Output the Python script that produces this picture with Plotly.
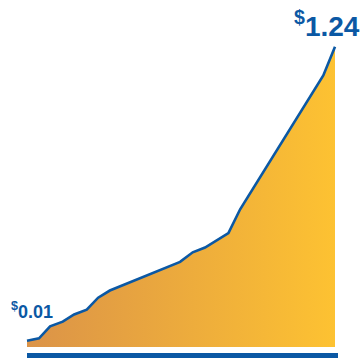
import plotly.graph_objects as go

# Data (x: relative period position 0-100, y: dollars)
periods = [0, 3.9, 7.5, 11.6, 15.3, 19.4, 23.1, 26.9, 49.7, 53.8, 57.8, 65.4, 69.2, 96.2, 100]
values = [0.01, 0.02, 0.07, 0.09, 0.12, 0.14, 0.19, 0.22, 0.34, 0.38, 0.40, 0.46, 0.56, 1.12, 1.24]
start_label = "<sup>$</sup>0.01"
end_label = "<sup>$</sup>1.24"

BLUE = "#0B58A4"
FONT = "Liberation Sans, Arial, sans-serif"
base_level = -0.016

fig = go.Figure()
fig.add_trace(go.Scatter(
    x=[periods[0], periods[-1]], y=[base_level, base_level],
    mode="lines", line=dict(width=0), hoverinfo="skip", showlegend=False,
))
fig.add_trace(go.Scatter(
    x=periods, y=values, mode="lines",
    line=dict(color=BLUE, width=2.6),
    fill="tonexty",
    fillgradient=dict(type="horizontal",
                      colorscale=[[0, "#DB9348"], [1, "#FDC232"]]),
    showlegend=False,
))

# Blue baseline bar
fig.add_shape(type="rect", xref="paper", yref="paper",
              x0=27/361, x1=338/361, y0=0, y1=1-353/358,
              fillcolor=BLUE, line=dict(width=0))

fig.add_annotation(text=start_label, xref="paper", yref="paper",
                   x=9/361, y=1-310/358, xanchor="left", yanchor="middle",
                   showarrow=False,
                   font=dict(family=FONT, size=18, color=BLUE, weight="bold"))
fig.add_annotation(text=end_label, xref="paper", yref="paper",
                   x=362/361, y=1-24/358, xanchor="right", yanchor="middle",
                   showarrow=False,
                   font=dict(family=FONT, size=28, color=BLUE, weight="bold"))

fig.update_layout(
    width=361, height=358,
    margin=dict(l=0, r=0, t=0, b=0),
    paper_bgcolor="white", plot_bgcolor="white",
    xaxis=dict(range=[-8.766, 108.44], visible=False, fixedrange=True),
    yaxis=dict(range=[-0.0623, 1.4356], visible=False, fixedrange=True),
)

fig.write_html("out.html")
